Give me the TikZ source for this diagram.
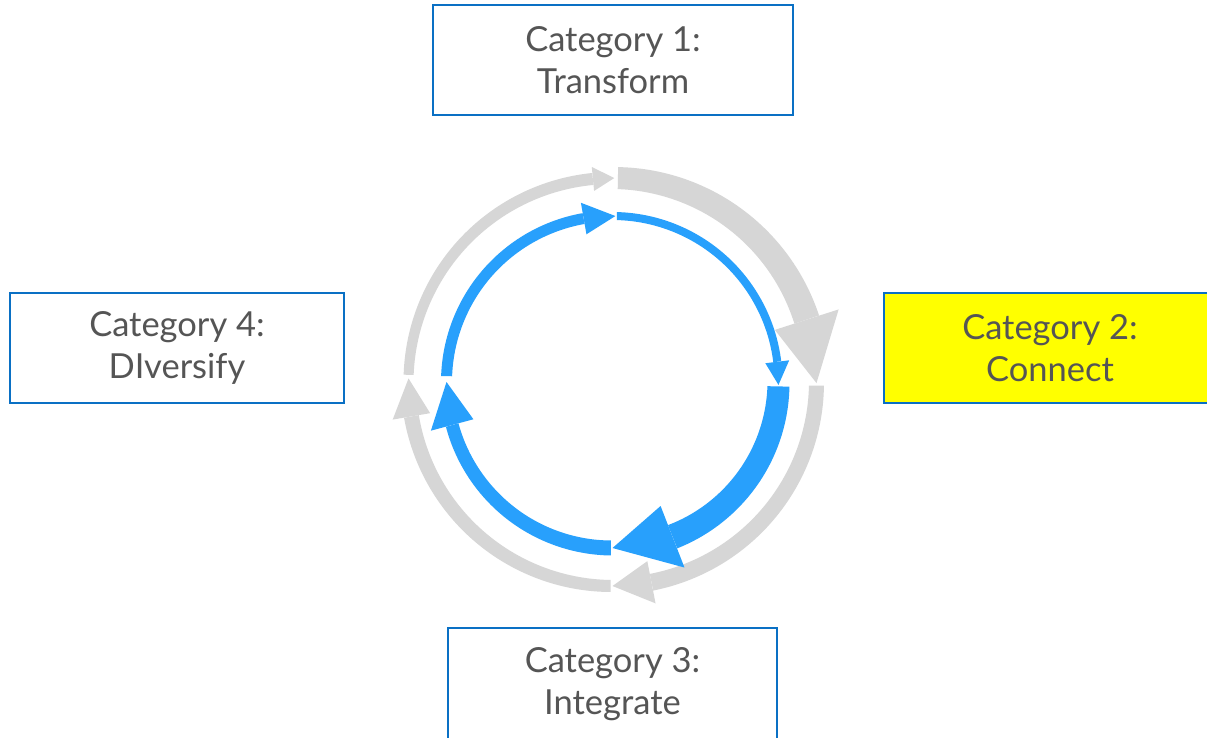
\documentclass[tikz,border=0pt]{standalone}
\usepackage{fontspec}
\setmainfont{Lato}
\definecolor{cyblue}{RGB}{40,160,252}
\definecolor{cygray}{RGB}{214,214,214}
\definecolor{boxblue}{RGB}{10,112,196}
\definecolor{txtgray}{RGB}{85,85,85}
\definecolor{hlyellow}{RGB}{255,255,0}
% #1 colour, #2 radius, #3 start angle, #4 head base angle, #5 tip angle,
% #6 start width, #7 end width, #8 head width
\newcommand{\taperarrow}[8]{%
  \fill[#1] plot[domain=0:1,samples=60,variable=\t]
      ({#3+(#4-#3)*\t}:{#2+(#6+(#7-#6)*\t)/2})
    -- plot[domain=1:0,samples=60,variable=\t]
      ({#3+(#4-#3)*\t}:{#2-(#6+(#7-#6)*\t)/2})
    -- cycle;
  \fill[#1] (#4:{#2+#8/2}) -- (#5:#2) -- (#4:{#2-#8/2}) -- cycle;
}
\begin{document}
\begin{tikzpicture}[x=1pt,y=-1pt,
  catbox/.style={draw=boxblue, line width=2.6pt, fill=white, text=txtgray,
    align=center, font=\fontsize{34.5}{42}\selectfont, inner sep=0pt}]
\useasboundingbox (0,0) rectangle (1207,737);
\fill[white] (0,0) rectangle (1207,737);

\node[catbox, minimum width=360pt, minimum height=110pt] (c1) at (613,60) {Category 1:\\Transform};
\node[catbox, fill=hlyellow, minimum width=332pt, minimum height=110pt] (c2) at (1050,348) {Category 2:\\Connect};
\node[catbox, minimum width=329pt, minimum height=112pt] (c3) at (612.5,684) {Category 3:\\Integrate};
\node[catbox, minimum width=334pt, minimum height=110pt] (c4) at (177,348) {Category 4:\\DIversify};

\begin{scope}[shift={(612.5,382)}, yscale=-1]
  % grey outer cycle
  \taperarrow{cygray}{204}{178}{95.5}{89.5}{10}{12}{24}
  \taperarrow{cygray}{204}{88.5}{17.8}{-0.3}{22}{26}{67}
  \taperarrow{cygray}{204}{-1}{-79}{-90}{15}{17}{43}
  \taperarrow{cygray}{204}{-90.5}{-170.3}{-181}{12}{15}{38}
  % blue inner cycle
  \taperarrow{cyblue}{166}{178}{100}{89}{11}{11}{32}
  \taperarrow{cyblue}{166}{88.5}{7}{-1}{8}{8}{24}
  \taperarrow{cyblue}{166}{-1.5}{-68.8}{-90}{22}{25}{66}
  \taperarrow{cyblue}{166}{-90.5}{-165}{-180}{15}{13}{44}
\end{scope}
\end{tikzpicture}
\end{document}
